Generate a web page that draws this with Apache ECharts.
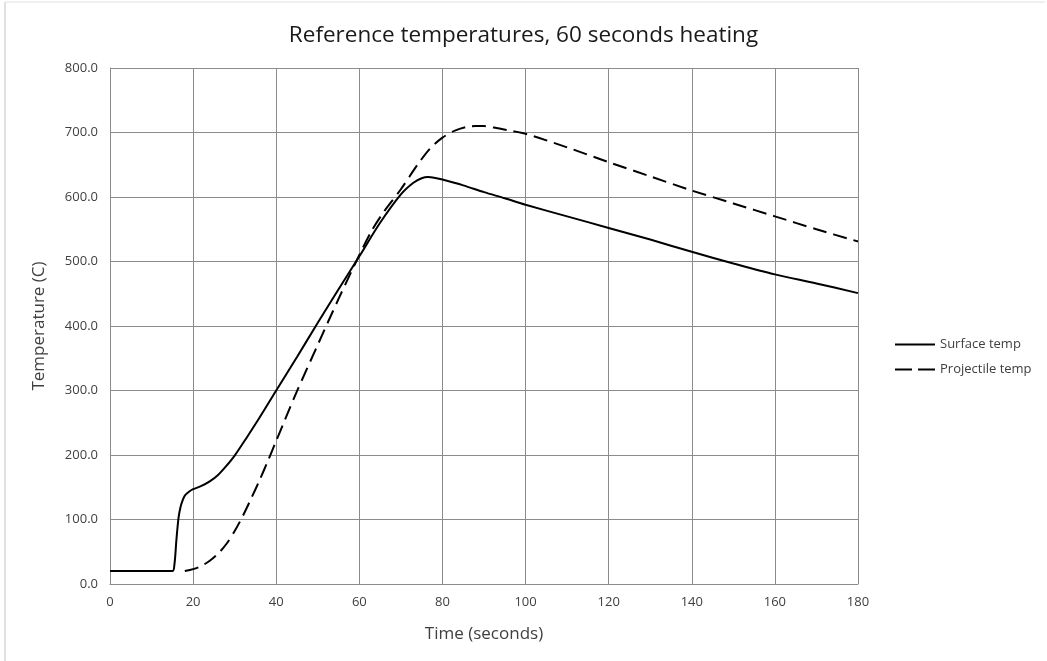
<!DOCTYPE html>
<html>
<head>
<meta charset="utf-8">
<script src="https://cdn.jsdelivr.net/npm/echarts@6/dist/echarts.min.js"></script>
<style>
html, body { margin: 0; padding: 0; background: #fff; }
#main { width: 1047px; height: 661px; }
</style>
</head>
<body>
<div id="main"></div>
<script>
// surface temperature (time in seconds, temp in C)
var surfaceTime = [0, 15, 15.5, 16, 16.5, 17, 17.5, 18, 19, 20, 22, 24, 26, 28, 30, 33, 36, 40, 45, 50, 55, 60, 65, 70, 73, 75, 76.5, 78, 80, 85, 90, 95, 100, 110, 120, 130, 140, 150, 160, 170, 180];
var surfaceTemp = [20, 20, 30, 70, 103, 120, 130, 137, 143, 147, 152, 159, 169, 183, 199, 228, 258, 300, 352, 405, 457, 508, 560, 604, 622, 629, 631, 630, 627, 618, 607.5, 598, 588, 570, 552, 534, 515, 497, 480, 466, 451];
// projectile temperature
var projTime = [18, 20, 22, 24, 26, 28, 30, 32, 34, 36, 38, 40, 42, 45, 50, 55, 60, 63, 66, 70, 74, 77, 80, 83, 86, 88, 90, 93, 96, 100, 110, 120, 130, 140, 150, 160, 170, 180];
var projTemp = [20, 23, 28, 36, 47, 62, 82, 106, 133, 161, 191, 222, 253, 299, 371, 442, 510, 548, 578, 612, 650, 675, 692, 703, 709, 710, 710, 707, 703, 698, 677, 654, 632, 610, 590, 570, 550, 531];

function pairs(xs, ys) {
	var out = [];
	for (var i = 0; i < xs.length; i++) {
		out.push([xs[i], ys[i]]);
	}
	return out;
}

var chart = echarts.init(document.getElementById('main'));
var txt = '#404040';
var option = {
	backgroundColor: '#fff',
	animation: false,
	title: {
		text: 'Reference temperatures, 60 seconds heating',
		left: 'center',
		top: 19,
		textStyle: { color: '#1a1a1a', fontSize: 22.5, fontWeight: 'normal', fontFamily: 'Open Sans' }
	},
	graphic: [
		{ type: 'line', shape: { x1: 5, y1: 2, x2: 1045, y2: 2 }, style: { stroke: '#e0e0e0', lineWidth: 1 } },
		{ type: 'line', shape: { x1: 5, y1: 2, x2: 5, y2: 661 }, style: { stroke: '#e0e0e0', lineWidth: 2 } }
	],
	legend: {
		orient: 'vertical',
		left: 890,
		top: 333,
		itemWidth: 40,
		itemHeight: 10,
		itemGap: 12,
		textStyle: { color: txt, fontSize: 13, fontFamily: 'Open Sans' },
		data: [
			{ name: 'Surface temp', icon: 'path://M0,0 L40,0 L40,2 L0,2 Z' },
			{ name: 'Projectile temp', icon: 'path://M0,0 L17,0 L17,2 L0,2 Z M23,0 L40,0 L40,2 L23,2 Z' }
		]
	},
	grid: { left: 110, right: 189, top: 68, bottom: 77 },
	xAxis: {
		type: 'value',
		min: 0, max: 180, interval: 20,
		name: 'Time (seconds)',
		nameLocation: 'middle',
		nameGap: 42,
		nameTextStyle: { color: txt, fontSize: 17, fontFamily: 'Open Sans' },
		axisLine: { lineStyle: { color: '#8c8c8c', width: 1 } },
		axisTick: { show: false },
		axisLabel: { color: txt, fontSize: 13, margin: 12, fontFamily: 'Open Sans' },
		splitLine: { show: true, lineStyle: { color: '#8c8c8c', width: 1 } }
	},
	yAxis: {
		type: 'value',
		min: 0, max: 800, interval: 100,
		name: 'Temperature (C)',
		nameLocation: 'middle',
		nameGap: 62,
		nameTextStyle: { color: txt, fontSize: 17, fontFamily: 'Open Sans' },
		axisLine: { show: true, lineStyle: { color: '#8c8c8c', width: 1 } },
		axisTick: { show: false },
		axisLabel: {
			color: txt, fontSize: 13, margin: 12, fontFamily: 'Open Sans',
			formatter: function (v) { return v.toFixed(1); }
		},
		splitLine: { show: true, lineStyle: { color: '#8c8c8c', width: 1 } }
	},
	series: [
		{
			name: 'Surface temp',
			type: 'line',
			smooth: 0.3,
			showSymbol: false,
			itemStyle: { color: '#000' },
			lineStyle: { color: '#000', width: 2 },
			data: pairs(surfaceTime, surfaceTemp)
		},
		{
			name: 'Projectile temp',
			type: 'line',
			smooth: 0.3,
			showSymbol: false,
			itemStyle: { color: '#000' },
			lineStyle: { color: '#000', width: 2, type: [14, 7] },
			data: pairs(projTime, projTemp)
		}
	]
};
chart.setOption(option);
</script>
</body>
</html>
